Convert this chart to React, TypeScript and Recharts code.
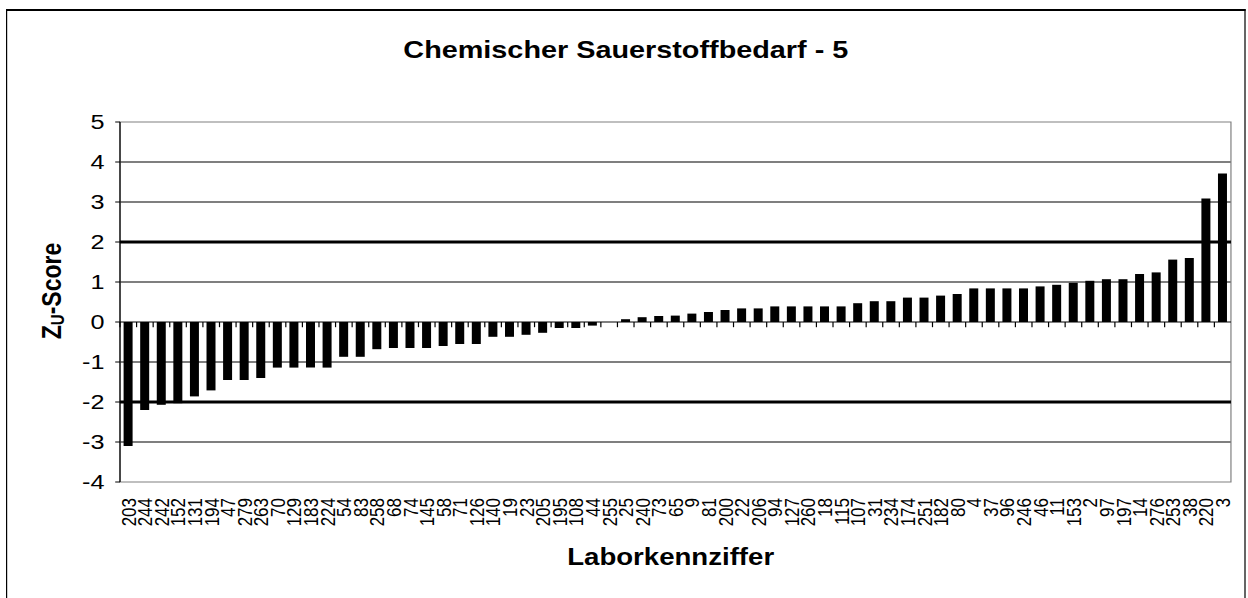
import React from 'react';
import { BarChart, Bar, XAxis, YAxis, CartesianGrid, ReferenceLine, ReferenceArea } from 'recharts';

const chartTitle = 'Chemischer Sauerstoffbedarf - 5';
const xTitle = 'Laborkennziffer';

const labCodes = [
  '203', '244', '242', '152', '131', '194', '47', '279', '263', '70',
  '129', '183', '224', '54', '83', '258', '68', '74', '145', '58',
  '71', '126', '140', '19', '23', '205', '195', '108', '44', '255',
  '25', '240', '73', '65', '9', '81', '200', '22', '206', '94',
  '127', '260', '18', '115', '107', '31', '234', '174', '251', '182',
  '80', '4', '37', '96', '246', '46', '11', '153', '2', '97',
  '197', '14', '276', '253', '38', '220', '3',
];

const zuScores = [
  -3.10, -2.20, -2.07, -2.03, -1.86, -1.71, -1.45, -1.45, -1.40, -1.14,
  -1.14, -1.14, -1.14, -0.87, -0.87, -0.68, -0.65, -0.65, -0.65, -0.60,
  -0.55, -0.55, -0.37, -0.37, -0.32, -0.27, -0.15, -0.15, -0.09, 0.0,
  0.07, 0.12, 0.15, 0.16, 0.21, 0.25, 0.30, 0.34, 0.34, 0.39,
  0.39, 0.39, 0.39, 0.39, 0.47, 0.52, 0.52, 0.61, 0.61, 0.66,
  0.70, 0.84, 0.84, 0.84, 0.84, 0.89, 0.93, 0.98, 1.03, 1.07,
  1.07, 1.20, 1.24, 1.56, 1.60, 3.09, 3.71,
];

const yTicks = [-4, -3, -2, -1, 0, 1, 2, 3, 4, 5];
const gridValues = [-3, -1, 1, 3, 4];
const limitValues = [-2, 2];

const data = labCodes.map((lab, i) => ({ lab, z: zuScores[i] }));

const FONT = '"Liberation Sans", Arial, Helvetica, sans-serif';
const SX = 1.2;
const W = 1248 / SX;
const H = 598;

const XTick = (props: any) => {
  const { x, y, payload } = props;
  return (
    <g transform={`translate(${x},${y}) rotate(-90)`}>
      <text x={0} y={0} dy="0.36em" textAnchor="end" fontSize={17} fontFamily={FONT} fill="#000">
        {payload.value}
      </text>
    </g>
  );
};

const YLabel = (props: any) => {
  const vb = props.viewBox || { x: 0, y: 0, width: 0, height: 0 };
  const cx = vb.x + 42.5;
  const cy = vb.y + vb.height / 2 - 11;
  return (
    <text
      transform={`rotate(-90, ${cx}, ${cy})`}
      x={cx}
      y={cy}
      textAnchor="middle"
      dominantBaseline="central"
      fontSize={23}
      fontWeight="bold"
      fontFamily={FONT}
      fill="#000"
    >
      Z<tspan dy={5} fontSize={15}>U</tspan><tspan dy={-5}>-Score</tspan>
    </text>
  );
};

const XLabel = (props: any) => {
  const vb = props.viewBox || { x: 0, y: 0, width: 0, height: 0 };
  return (
    <text
      x={vb.x + vb.width / 2 - 4}
      y={vb.y + 83}
      textAnchor="middle"
      fontSize={23}
      fontWeight="bold"
      fontFamily={FONT}
      fill="#000"
    >
      {xTitle}
    </text>
  );
};

export default function App() {
  return (
    <div style={{ position: 'absolute', left: 0, top: 0, width: 1248, height: 598, overflow: 'hidden', background: '#fff' }}>
      <div style={{ position: 'absolute', left: 0, top: 0, width: W, height: H, transform: `scaleX(${SX})`, transformOrigin: '0 0' }}>
        <div
          style={{
            position: 'absolute',
            left: 5,
            top: 9,
            width: 1033,
            height: 600,
            borderTop: '2px solid #000',
            borderLeft: '1.7px solid #000',
            borderRight: '1.7px solid #000',
            boxSizing: 'border-box',
          }}
        />
        <div
          style={{
            position: 'absolute',
            left: 5,
            top: 36,
            width: 1033,
            height: 28,
            lineHeight: '28px',
            textAlign: 'center',
            fontFamily: FONT,
            fontWeight: 'bold',
            fontSize: 24,
            color: '#000',
          }}
        >
          {chartTitle}
        </div>
        <div style={{ position: 'absolute', left: 0, top: 0 }}>
          <BarChart
            width={W}
            height={H}
            data={data}
            margin={{ top: 122, right: 14.2, bottom: 16, left: 0 }}
            barSize={7.5}
          >
            <CartesianGrid vertical={false} horizontal stroke="#000" strokeWidth={1} horizontalValues={gridValues} />
            <ReferenceArea y1={-4} y2={5} fill="none" stroke="#808080" strokeWidth={1} />
            {limitValues.map((v) => (
              <ReferenceLine key={`lim${v}`} y={v} stroke="#000" strokeWidth={3} />
            ))}
            <ReferenceLine y={0} stroke="#000" strokeWidth={1} />
            {labCodes.map((lab) => (
              <ReferenceLine
                key={`tk${lab}`}
                segment={[{ x: lab, y: 0 }, { x: lab, y: -0.13 }]}
                position="start"
                stroke="#000"
                strokeWidth={1}
              />
            ))}
            <XAxis
              dataKey="lab"
              type="category"
              interval={0}
              height={100}
              axisLine={false}
              tickLine={false}
              tickSize={0}
              tickMargin={16}
              tick={<XTick />}
              label={<XLabel />}
            />
            <YAxis
              type="number"
              domain={[-4, 5]}
              ticks={yTicks}
              interval={0}
              width={100}
              axisLine={{ stroke: '#000', strokeWidth: 1 }}
              tickLine={{ stroke: '#000', strokeWidth: 1 }}
              tickSize={4}
              tickMargin={9}
              tick={{ fontSize: 21, fontFamily: FONT, fill: '#000' }}
              label={<YLabel />}
            />
            <Bar dataKey="z" fill="#000" isAnimationActive={false} />
          </BarChart>
        </div>
      </div>
    </div>
  );
}
